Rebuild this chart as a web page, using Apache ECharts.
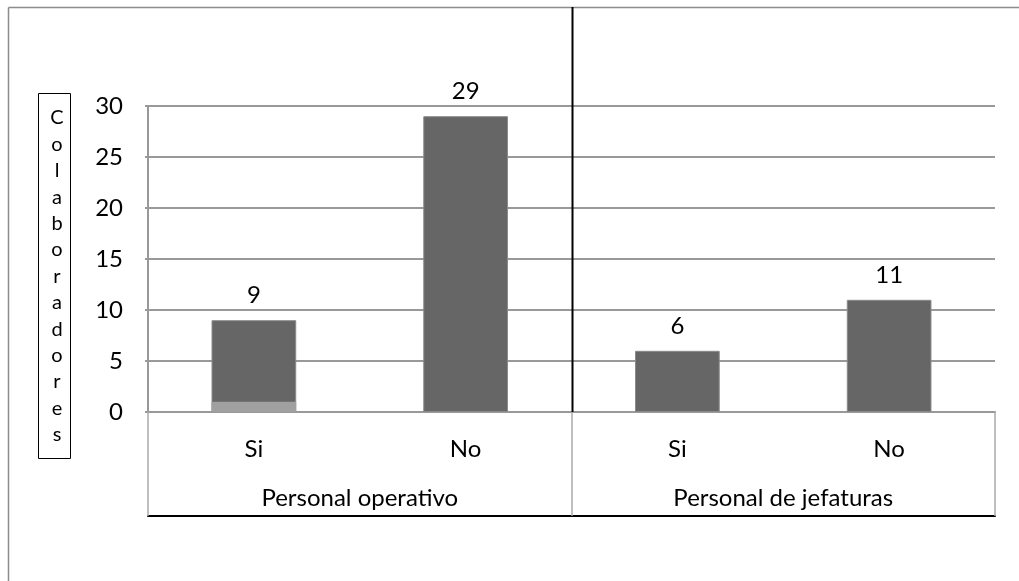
<!DOCTYPE html>
<html>
<head>
<meta charset="utf-8">
<script src="https://cdn.jsdelivr.net/npm/echarts@6/dist/echarts.min.js"></script>
<style>
  html, body { margin: 0; padding: 0; background: #fff; }
  #chart { width: 1019px; height: 581px; }
</style>
</head>
<body>
<div id="chart"></div>
<script>
// Respuestas por tipo de personal
const categories = ['Si', 'No', 'Si', 'No'];
const groups = ['Personal operativo', 'Personal de jefaturas'];
const totals = [9, 29, 6, 11];
const lowerSegment = [1, null, null, null];
const yTicks = { min: 0, max: 30, interval: 5 };
const axisTitle = 'Colaboradores';

const FONT = 'Lato, "Open Sans", sans-serif';
const FS = 24;
const chart = echarts.init(document.getElementById('chart'), null, { renderer: 'canvas' });

const GRID = { left: 148, right: 24, top: 106, bottom: 169 };
const TABLE_H = 104;

chart.setOption({
  animation: false,
  backgroundColor: '#fff',
  textStyle: { fontFamily: FONT },
  grid: { left: GRID.left, right: GRID.right, top: GRID.top, bottom: GRID.bottom },
  xAxis: [
    {
      type: 'category',
      data: categories,
      position: 'bottom',
      axisLine: { show: true, lineStyle: { color: '#999', width: 2 } },
      axisTick: { show: false },
      axisLabel: { color: '#000', fontSize: FS, fontFamily: FONT, margin: 37, verticalAlign: 'middle' }
    },
    {
      type: 'category',
      data: groups,
      position: 'bottom',
      offset: TABLE_H,
      axisLine: { show: true, lineStyle: { color: '#000', width: 2 } },
      axisTick: { show: true, inside: true, length: TABLE_H, lineStyle: { color: '#aaa', width: 1.5 } },
      axisLabel: { inside: true, color: '#000', fontSize: FS, fontFamily: FONT, margin: 18, verticalAlign: 'middle' }
    }
  ],
  yAxis: {
    type: 'value',
    min: yTicks.min,
    max: yTicks.max,
    interval: yTicks.interval,
    axisLine: { show: true, lineStyle: { color: '#999', width: 2 } },
    axisTick: { show: true, length: 3, lineStyle: { color: '#999', width: 2 } },
    splitLine: { show: true, lineStyle: { color: '#999', width: 2 } },
    axisLabel: { color: '#000', fontSize: FS, fontFamily: FONT, margin: 25, verticalAlign: 'middle' }
  },
  series: [
    {
      type: 'bar',
      xAxisIndex: 0,
      data: totals,
      barWidth: '40%',
      barGap: '-100%',
      itemStyle: { color: '#666666', borderColor: '#8a8a8a', borderWidth: 1 },
      label: { show: true, position: 'top', distance: 13, color: '#000', fontSize: FS, fontFamily: FONT }
    },
    {
      type: 'bar',
      xAxisIndex: 0,
      data: lowerSegment,
      barWidth: '40%',
      barGap: '-100%',
      itemStyle: { color: '#a0a0a0' },
      z: 3
    }
  ]
});

// Dividing line between the two groups, boxed axis title, and outer frame
const rect = chart.getModel().getComponent('grid').coordinateSystem.getRect();
const divX = Math.round(rect.x + rect.width / 2) + 0.5;
const letters = axisTitle.split('');
const letterStep = 26.4;
const boxTop = 93, boxLeft = 38, boxW = 32;
const boxH = 365;

const graphics = [
  { type: 'line', shape: { x1: 8.5, y1: 7.5, x2: 1019, y2: 7.5 }, style: { stroke: '#8c8c8c', lineWidth: 1.5 } },
  { type: 'line', shape: { x1: 8.5, y1: 7.5, x2: 8.5, y2: 581 }, style: { stroke: '#8c8c8c', lineWidth: 1.5 } },
  { type: 'line', shape: { x1: divX, y1: 7, x2: divX, y2: rect.y + rect.height }, style: { stroke: '#000', lineWidth: 2 }, z: 10 },
  { type: 'rect', shape: { x: boxLeft + 0.5, y: boxTop + 0.5, width: boxW, height: boxH }, style: { fill: '#fff', stroke: '#000', lineWidth: 1 } }
];
letters.forEach((ch, i) => {
  graphics.push({
    type: 'text',
    x: boxLeft + 19,
    y: boxTop + 25 + i * letterStep,
    style: { text: ch, fill: '#000', font: '20px ' + FONT, align: 'center', verticalAlign: 'middle' }
  });
});
chart.setOption({ graphic: graphics });
</script>
</body>
</html>
